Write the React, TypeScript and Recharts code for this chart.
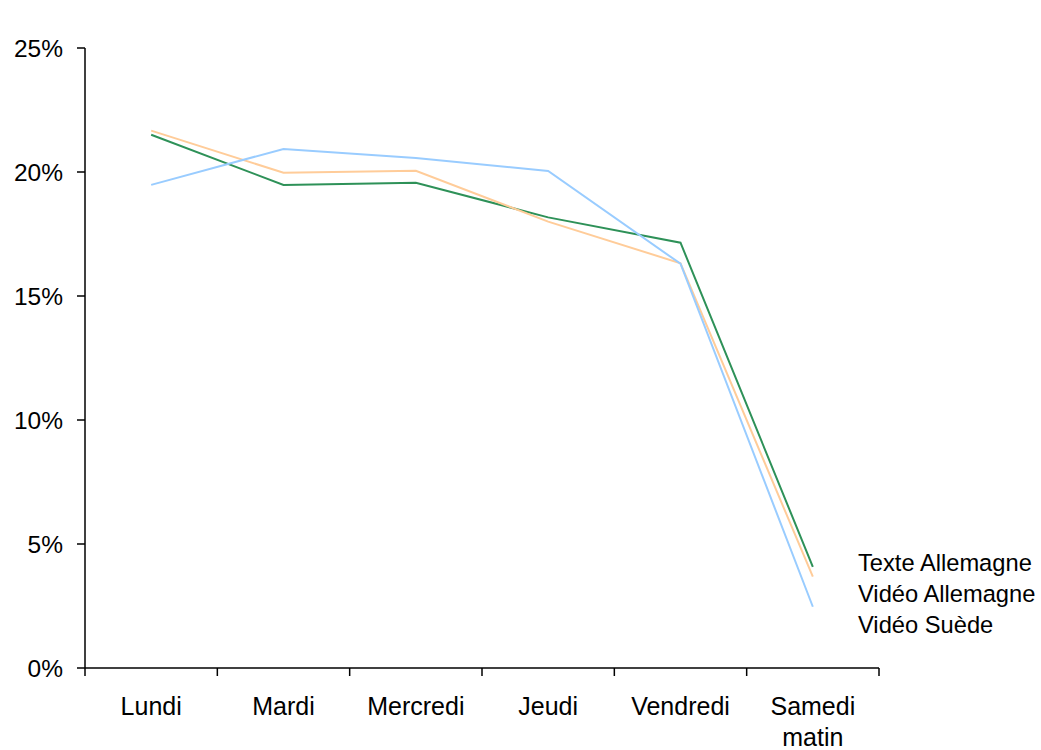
import { LineChart, Line, XAxis, YAxis } from 'recharts'

const categories = ['Lundi', 'Mardi', 'Mercredi', 'Jeudi', 'Vendredi', 'Samedi\nmatin']
const texteAllemagne = [21.5, 19.48, 19.57, 18.17, 17.15, 4.08]
const videoAllemagne = [21.67, 19.97, 20.05, 18.0, 16.32, 3.68]
const videoSuede = [19.48, 20.93, 20.56, 20.04, 16.3, 2.47]
const yTicks = [0, 5, 10, 15, 20, 25]
const xBounds = [0, 1, 2, 3, 4, 5, 6]

const SERIES = [
  { key: 'texte', label: 'Texte Allemagne', color: '#2E9158' },
  { key: 'videoDe', label: 'Vidéo Allemagne', color: '#FFCC99' },
  { key: 'videoSe', label: 'Vidéo Suède', color: '#99CCFF' },
]

const FONT = '"Liberation Sans", Arial, Helvetica, sans-serif'

const data = categories.map((c, i) => ({
  x: i + 0.5,
  texte: texteAllemagne[i],
  videoDe: videoAllemagne[i],
  videoSe: videoSuede[i],
}))

// category labels sit between the boundary ticks
const DayTick = ({ x, y, payload }: any) => {
  const label = categories[payload.value]
  if (!label) return <g />
  const lines = label.split('\n')
  return (
    <text x={x + 66.2} y={y + 37} textAnchor="middle" fill="#000" fontSize={25} fontFamily={FONT}>
      {lines.map((l, i) => (
        <tspan key={i} x={x + 66.2} dy={i === 0 ? 0 : 31}>{l}</tspan>
      ))}
    </text>
  )
}

export default function App() {
  return (
    <div style={{ position: 'absolute', left: 0, top: 0, width: 1041, height: 750, background: '#fff' }}>
      <LineChart width={1041} height={750} data={data} margin={{ top: 48, right: 162, left: 0, bottom: 0 }}>
        <XAxis
          dataKey="x"
          type="number"
          domain={[0, 6]}
          ticks={xBounds}
          interval={0}
          height={82}
          tick={<DayTick />}
          tickSize={8}
          stroke="#000"
          strokeWidth={1.5}
        />
        <YAxis
          type="number"
          domain={[0, 25]}
          ticks={yTicks}
          width={85}
          tickSize={8}
          tickMargin={14}
          tickFormatter={(v) => `${v}%`}
          tick={{ fontSize: 24.5, fill: '#000', fontFamily: FONT }}
          stroke="#000"
          strokeWidth={1.5}
        />
        {SERIES.map((s) => (
          <Line
            key={s.key}
            type="linear"
            dataKey={s.key}
            name={s.label}
            stroke={s.color}
            strokeWidth={2}
            dot={false}
            isAnimationActive={false}
          />
        ))}
      </LineChart>
      <div
        style={{
          position: 'absolute', left: 858, top: 548,
          fontFamily: FONT, fontSize: 23.7, lineHeight: '31px', color: '#000', whiteSpace: 'nowrap',
        }}
      >
        {SERIES.map((s) => (
          <div key={s.key}>{s.label}</div>
        ))}
      </div>
    </div>
  )
}
